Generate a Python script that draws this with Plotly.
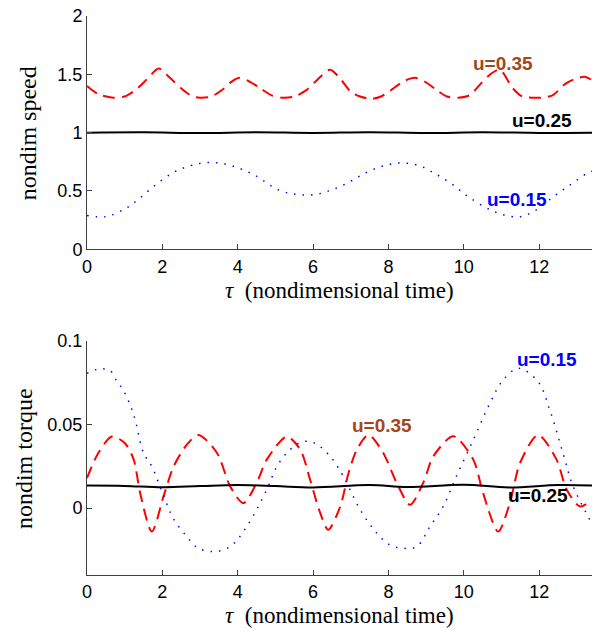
import plotly.graph_objects as go

# ---------------- data: top panel (nondim speed) ----------------
x_speed_35 = [0, 0.3, 0.7, 1.0, 1.3, 1.6, 1.9, 2.2, 2.5, 2.8, 3.0, 3.3, 3.6, 3.85, 4.05, 4.3, 4.6, 4.9,
              5.2, 5.5, 5.8, 6.1, 6.45, 6.75, 7.0, 7.25, 7.55, 7.8, 8.05, 8.4, 8.7, 9.0, 9.3, 9.55,
              9.85, 10.15, 10.45, 10.7, 10.95, 11.3, 11.55, 11.8, 12.05, 12.35, 12.7, 12.95, 13.2, 13.4]
y_speed_35 = [1.40, 1.33, 1.30, 1.31, 1.37, 1.46, 1.55, 1.47, 1.38, 1.31, 1.30, 1.31, 1.37, 1.44, 1.47, 1.44, 1.38, 1.32,
              1.30, 1.31, 1.36, 1.45, 1.54, 1.45, 1.35, 1.31, 1.29, 1.31, 1.36, 1.44, 1.47, 1.43, 1.36, 1.31,
              1.30, 1.32, 1.42, 1.50, 1.54, 1.38, 1.31, 1.30, 1.30, 1.32, 1.42, 1.46, 1.48, 1.45]

x_speed_25 = [0, 1.5, 3.0, 4.5, 6.0, 7.5, 9.0, 10.5, 12.0, 13.4]
y_speed_25 = [1.0, 1.003, 0.997, 1.003, 0.998, 1.004, 0.997, 1.003, 0.998, 1.0]

x_speed_15 = [0, 0.49, 0.97, 1.33, 1.77, 2.3, 2.78, 3.25, 3.8, 4.42, 5.08, 5.57, 6.05, 6.5, 6.98, 7.42,
              7.91, 8.35, 8.79, 9.23, 9.72, 10.12, 10.69, 11.13, 11.5, 11.93, 12.37, 12.81, 13.26, 13.4]
y_speed_15 = [0.29, 0.28, 0.34, 0.42, 0.54, 0.66, 0.72, 0.745, 0.72, 0.64, 0.51, 0.47, 0.47, 0.51, 0.58, 0.66,
              0.72, 0.74, 0.72, 0.65, 0.55, 0.45, 0.34, 0.29, 0.28, 0.34, 0.45, 0.55, 0.65, 0.67]

# ---------------- data: bottom panel (nondim torque) ----------------
x_torque_35 = [0, 0.3, 0.66, 1.0, 1.24, 1.41, 1.72, 2.03, 2.3, 2.65, 2.96, 3.45, 3.8, 4.15, 4.5, 4.77,
               5.3, 5.66, 5.92, 6.19, 6.4, 6.72, 6.94, 7.16, 7.47, 7.86, 8.22, 8.57, 8.92, 9.19, 9.72,
               10.25, 10.51, 10.91, 11.22, 11.49, 11.97, 12.46, 12.73, 13.08, 13.4]
y_torque_35 = [0.018, 0.033, 0.0428, 0.039, 0.029, 0.009, -0.014, 0.007, 0.025, 0.038, 0.0438, 0.033, 0.013, 0.003, 0.015, 0.029,
               0.0428, 0.035, 0.017, -0.003, -0.013, 0.001, 0.021, 0.035, 0.0438, 0.033, 0.015, 0.002, 0.015, 0.031, 0.043,
               0.029, 0.009, -0.014, 0.003, 0.027, 0.0438, 0.029, 0.011, 0.001, 0.005]

x_torque_25 = [0, 1.0, 2.0, 3.0, 4.0, 5.0, 6.0, 7.5, 8.5, 10.0, 11.2, 12.5, 13.4]
y_torque_25 = [0.0135, 0.0133, 0.0125, 0.0132, 0.0138, 0.0132, 0.0124, 0.0138, 0.0126, 0.014, 0.0124, 0.0138, 0.0135]

x_torque_15 = [0, 0.27, 0.6, 0.8, 0.97, 1.24, 1.5, 1.72, 1.99, 2.3, 2.65, 2.92, 3.36, 3.8, 4.24, 4.77,
               5.04, 5.39, 5.74, 6.05, 6.45, 6.8, 7.25, 7.69, 8.04, 8.39, 8.75, 9.1, 9.45, 9.8,
               10.25, 10.69, 11.04, 11.45, 11.97, 12.28, 12.63, 12.9, 13.34, 13.4]
y_torque_15 = [0.0806, 0.083, 0.0825, 0.0756, 0.0703, 0.0557, 0.033, 0.025, 0.0099, -0.0066, -0.017, -0.0235, -0.026, -0.023, -0.011, 0.011,
               0.025, 0.035, 0.0398, 0.0388, 0.031, 0.019, -0.001, -0.015, -0.022, -0.024, -0.023, -0.011, 0.001, 0.019,
               0.0408, 0.0627, 0.0766, 0.0836, 0.0756, 0.0587, 0.0329, 0.013, -0.007, -0.010]

labels = ["u=0.35", "u=0.25", "u=0.15"]
xticks = [0, 2, 4, 6, 8, 10, 12]
speed_ticks = [0, 0.5, 1, 1.5, 2]
torque_ticks = [0, 0.05, 0.1]
torque_ticktext = ["0", "0.05", "0.1"]
xtitle = "<i>τ</i>  (nondimensional time)"

RED = "#ff0000"
BLUE = "#0000ff"
BROWN = "#a5461a"

fig = go.Figure()

def add_set(xs, xa, ya):
    (x35, y35), (x25, y25), (x15, y15) = xs
    fig.add_trace(go.Scatter(x=x35, y=y35, mode="lines", xaxis=xa, yaxis=ya,
                             line=dict(color=RED, width=2, dash="12px,7px", shape="spline", smoothing=0.8)))
    fig.add_trace(go.Scatter(x=x25, y=y25, mode="lines", xaxis=xa, yaxis=ya,
                             line=dict(color="black", width=2, shape="spline")))
    fig.add_trace(go.Scatter(x=x15, y=y15, mode="lines", xaxis=xa, yaxis=ya,
                             line=dict(color=BLUE, width=1.5, dash="1.5px,7px", shape="spline")))

add_set([(x_speed_35, y_speed_35), (x_speed_25, y_speed_25), (x_speed_15, y_speed_15)], "x", "y")
add_set([(x_torque_35, y_torque_35), (x_torque_25, y_torque_25), (x_torque_15, y_torque_15)], "x2", "y2")

tickfont = dict(family="Liberation Sans, Arial, sans-serif", size=18, color="black")
axcommon = dict(showgrid=False, zeroline=False, showline=True, linecolor="#404040", linewidth=1,
                ticks="inside", ticklen=5, tickcolor="#404040", tickfont=tickfont, mirror=False)

fig.update_layout(
    width=592, height=631,
    margin=dict(l=87, r=0, t=16, b=56),
    paper_bgcolor="white", plot_bgcolor="white",
    showlegend=False,
    xaxis=dict(domain=[0, 1], anchor="y", range=[0, 13.4], tickvals=xticks, ticklabelstandoff=1, **axcommon),
    yaxis=dict(domain=[0.5826, 1.0], anchor="x", range=[0, 2], tickvals=speed_ticks,
               ticktext=["0", "0.5", "1", "1.5", "2"], **axcommon),
    xaxis2=dict(domain=[0, 1], anchor="y2", range=[0, 13.4], tickvals=xticks, ticklabelstandoff=0, **axcommon),
    yaxis2=dict(domain=[0, 0.4187], anchor="x2", range=[-0.04, 0.1], tickvals=torque_ticks,
                ticktext=torque_ticktext, **axcommon),
)

serif = dict(family="Liberation Serif, Times New Roman, serif", size=23, color="black")
serif_y = dict(family="Liberation Serif, Times New Roman, serif", size=24, color="black")
ann = [
    dict(text=xtitle, xref="paper", yref="paper", x=0.5, y=0.5098, showarrow=False, font=serif,
         xanchor="center", yanchor="middle"),
    dict(text=xtitle, xref="paper", yref="paper", x=0.5, y=-0.0985, showarrow=False, font=serif,
         xanchor="center", yanchor="bottom"),
    dict(text="nondim speed", xref="paper", yref="paper", x=-0.118, y=0.791, showarrow=False, font=serif_y,
         textangle=-90, xanchor="center", yanchor="middle"),
    dict(text="nondim torque", xref="paper", yref="paper", x=-0.125, y=0.209, showarrow=False, font=serif_y,
         textangle=-90, xanchor="center", yanchor="middle"),
]
lblfont = lambda c: dict(family="Liberation Sans, Arial, sans-serif", size=19, color=c)
label_pos_top = [(11.05, 1.592, BROWN), (12.08, 1.107, "black"), (11.4, 0.43, BLUE)]
label_pos_bot = [(7.84, 0.0492, BROWN), (11.97, 0.0075, "black"), (12.2, 0.089, BLUE)]
for (x, y, c), t in zip(label_pos_top, labels):
    ann.append(dict(text="<b>%s</b>" % t, x=x, y=y, xref="x", yref="y", showarrow=False, font=lblfont(c)))
for (x, y, c), t in zip(label_pos_bot, labels):
    ann.append(dict(text="<b>%s</b>" % t, x=x, y=y, xref="x2", yref="y2", showarrow=False, font=lblfont(c)))
fig.update_layout(annotations=ann)

fig.write_html("out.html")
